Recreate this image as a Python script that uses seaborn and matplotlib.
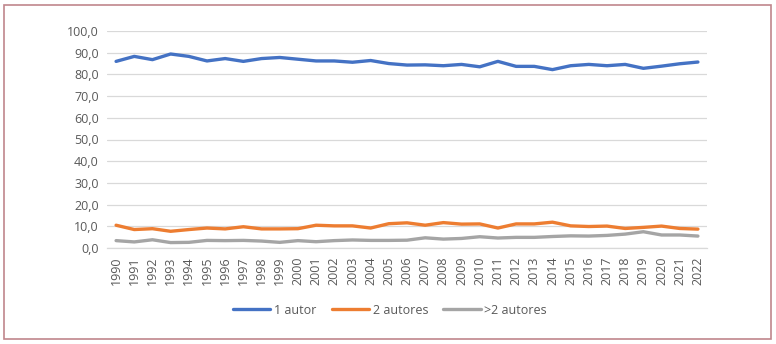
import matplotlib
matplotlib.use("Agg")
import matplotlib.pyplot as plt
import seaborn as sns
import pandas as pd
from matplotlib.patches import Rectangle
from matplotlib.ticker import FuncFormatter

years = [str(y) for y in range(1990, 2023)]
autor_1 = [86.0, 88.3, 86.8, 89.4, 88.3, 86.2, 87.3, 86.0, 87.3, 87.8, 87.0, 86.2, 86.2, 85.6, 86.4, 85.0,
           84.3, 84.4, 84.0, 84.6, 83.5, 86.0, 83.7, 83.7, 82.2, 84.0, 84.6, 84.0, 84.6, 82.8, 83.8, 84.9, 85.7]
autores_2 = [10.5, 8.5, 8.9, 7.7, 8.5, 9.2, 8.8, 9.8, 8.8, 8.8, 8.9, 10.5, 10.2, 10.2, 9.2, 11.2,
             11.6, 10.5, 11.7, 11.0, 11.1, 9.2, 11.1, 11.1, 11.9, 10.2, 9.9, 10.1, 9.0, 9.5, 10.1, 9.0, 8.7]
autores_mas2 = [3.4, 2.8, 3.8, 2.5, 2.6, 3.5, 3.4, 3.5, 3.2, 2.6, 3.4, 2.9, 3.4, 3.7, 3.5, 3.5,
                3.6, 4.7, 4.1, 4.4, 5.2, 4.6, 4.9, 4.9, 5.3, 5.6, 5.5, 5.8, 6.4, 7.5, 6.0, 6.0, 5.5]
series_names = ["1 autor", "2 autores", ">2 autores"]
y_ticks = [0, 10, 20, 30, 40, 50, 60, 70, 80, 90, 100]

df = pd.DataFrame({
    "Año": years * 3,
    "Valor": autor_1 + autores_2 + autores_mas2,
    "Serie": [series_names[0]] * len(years) + [series_names[1]] * len(years) + [series_names[2]] * len(years),
})

sns.set_style("white")
plt.rcParams["font.family"] = ["Open Sans", "DejaVu Sans"]

fig = plt.figure(figsize=(7.76, 3.44), dpi=100)
ax = fig.add_axes([107 / 776, 1 - 248 / 344, 600 / 776, 217 / 344])

palette = {"1 autor": "#4472C4", "2 autores": "#ED7D31", ">2 autores": "#A5A5A5"}
sns.lineplot(data=df, x="Año", y="Valor", hue="Serie", palette=palette, linewidth=2.4,
             sort=False, ax=ax, legend=True)

ax.set_xlim(-0.5, len(years) - 0.5)
ax.set_ylim(0, 100)
ax.set_yticks(y_ticks)
ax.yaxis.set_major_formatter(FuncFormatter(lambda v, p: f"{v:.1f}".replace(".", ",")))
ax.grid(axis="y", color="#D9D9D9", linewidth=0.9)
ax.grid(axis="x", visible=False)
for s in ["top", "right", "left"]:
    ax.spines[s].set_visible(False)
ax.spines["bottom"].set_color("#D9D9D9")
ax.spines["bottom"].set_linewidth(0.9)
ax.tick_params(axis="both", length=0, colors="#595959", labelsize=9, pad=6)
ax.tick_params(axis="x", pad=6)
plt.setp(ax.get_xticklabels(), rotation=90)
ax.set_xlabel("")
ax.set_ylabel("")
ax.set_axisbelow(True)

handles, labels = ax.get_legend_handles_labels()
ax.legend(handles, labels, loc="center", bbox_to_anchor=(390 / 776, 1 - 310 / 344),
          bbox_transform=fig.transFigure, ncol=3, frameon=False, fontsize=9,
          handlelength=3.0, handletextpad=0.3, columnspacing=1.2, labelcolor="#595959")

fig.patches.append(Rectangle((4 / 776, 5 / 344), 767 / 776, 334 / 344, transform=fig.transFigure,
                             fill=False, edgecolor="#C0868C", linewidth=1.2))

fig.savefig("out.png", dpi=100)
